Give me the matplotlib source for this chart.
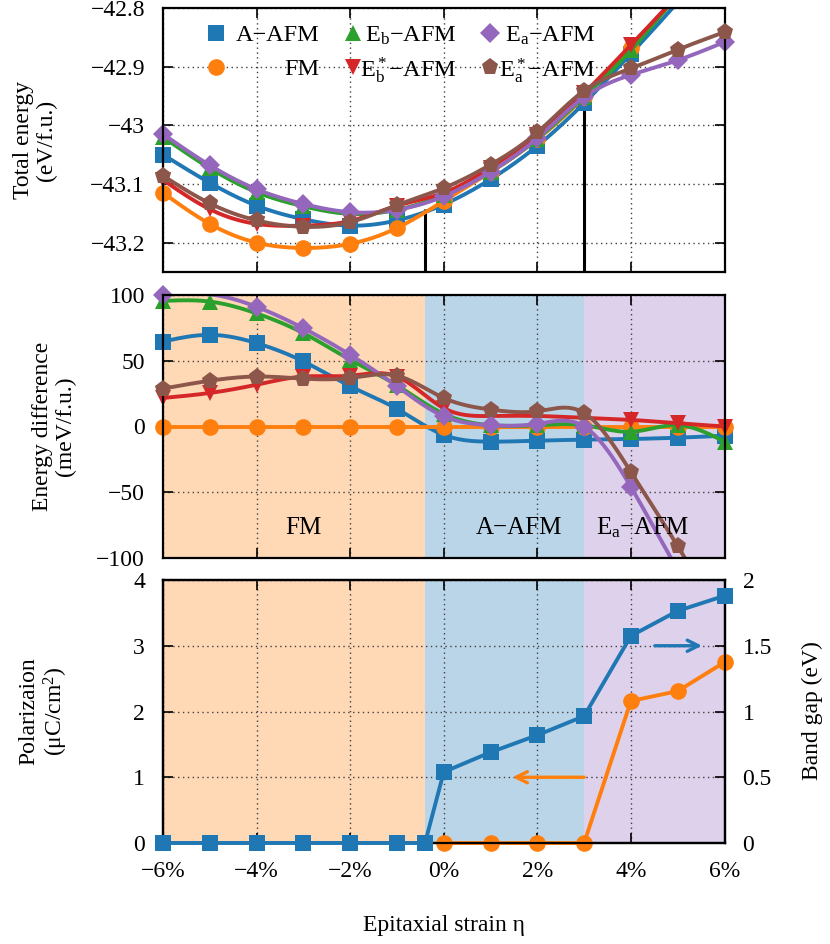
import numpy as np
import matplotlib
matplotlib.use("Agg")
import matplotlib.pyplot as plt
from matplotlib.ticker import FuncFormatter
from matplotlib import font_manager

serif_names = {f.name for f in font_manager.fontManager.ttflist}
main_font = "Liberation Serif" if "Liberation Serif" in serif_names else "STIXGeneral"
plt.rcParams["font.family"] = [main_font, "STIXGeneral", "DejaVu Serif"]
plt.rcParams["mathtext.fontset"] = "custom"
plt.rcParams["mathtext.rm"] = main_font
plt.rcParams["mathtext.it"] = main_font + ":italic"
plt.rcParams["mathtext.default"] = "regular"
plt.rcParams["font.size"] = 16

# ---------------- data ----------------
strain = [-6, -5, -4, -3, -2, -1, 0, 1, 2, 3, 4, 5, 6]
phase_labels = ["A−AFM", "FM", "E$_b$−AFM", "E$_b^*$−AFM", "E$_a$−AFM", "E$_a^*$−AFM"]

# total energy (eV/f.u.)
etot_A = [-43.050, -43.098, -43.137, -43.160, -43.171, -43.162, -43.135, -43.092, -43.035, -42.962, -42.878, -42.790, -42.697]
etot_FM = [-43.115, -43.168, -43.200, -43.209, -43.202, -43.175, -43.129, -43.080, -43.024, -42.952, -42.868, -42.780, -42.690]
etot_Eb = [-43.020, -43.073, -43.114, -43.138, -43.151, -43.144, -43.119, -43.079, -43.023, -42.951, -42.872, -42.779, -42.701]
etot_Ebs = [-43.093, -43.143, -43.168, -43.171, -43.163, -43.137, -43.115, -43.072, -43.016, -42.945, -42.863, -42.778, -42.690]
etot_Ea = [-43.015, -43.068, -43.109, -43.134, -43.148, -43.144, -43.121, -43.079, -43.022, -42.952, -42.914, -42.889, -42.858]
etot_Eas = [-43.086, -43.133, -43.162, -43.173, -43.165, -43.136, -43.107, -43.067, -43.012, -42.941, -42.903, -42.871, -42.841]

# energy relative to FM (meV/f.u.)
de_A = [64.6, 69.7, 63.4, 49.5, 30.6, 13.4, -6.4, -11.5, -10.8, -10.0, -9.5, -8.5, -7.0]
de_FM = [0, 0, 0, 0, 0, 0, 0, 0, 0, 0, 0, 0, 0]
de_Eb = [95.5, 95.0, 86.0, 71.0, 50.8, 31.3, 9.6, 1.0, 1.0, 1.0, -4.0, 1.0, -11.5]
de_Ebs = [21.7, 25.5, 31.8, 38.0, 38.6, 38.0, 14.0, 8.0, 8.0, 6.6, 5.0, 2.5, 0.0]
de_Ea = [100.0, 100.5, 91.0, 74.7, 54.5, 30.6, 7.8, 1.0, 2.0, 0.0, -46.0, -109.0, -168.0]
de_Eas = [28.8, 34.8, 38.0, 36.4, 36.9, 38.6, 21.7, 12.9, 11.6, 10.3, -34.6, -91.0, -151.0]

# polarization (left axis) and band gap (right axis)
pol_strain = [0, 1, 2, 3, 4, 5, 6]
polarization = [0, 0, 0, 0, 2.16, 2.31, 2.75]
gap_strain = [-6, -5, -4, -3, -2, -1, -0.4, 0, 1, 2, 3, 4, 5, 6]
band_gap = [0, 0, 0, 0, 0, 0, 0, 0.54, 0.69, 0.82, 0.965, 1.575, 1.765, 1.88]

# phase boundaries and their energies
boundaries = [-0.4, 3.0]
boundary_energy = [-43.142, -42.965]
regions = [("FM", -6, -0.4, "tab:orange", -3.0),
           ("A−AFM", -0.4, 3.0, "tab:blue", 1.6),
           ("E$_a$−AFM", 3.0, 6, "tab:purple", 4.25)]

colors = ["tab:blue", "tab:orange", "tab:green", "tab:red", "tab:purple", "tab:brown"]
markers = ["s", "o", "^", "v", "D", "p"]
msizes = [11.5, 12, 11.5, 11.5, 10, 12.5]
etot = [etot_A, etot_FM, etot_Eb, etot_Ebs, etot_Ea, etot_Eas]
de = [de_A, de_FM, de_Eb, de_Ebs, de_Ea, de_Eas]


def natural_spline(x, y, xs):
    x = np.asarray(x, float)
    y = np.asarray(y, float)
    n = len(x)
    h = np.diff(x)
    A = np.zeros((n, n))
    r = np.zeros(n)
    A[0, 0] = A[-1, -1] = 1.0
    for i in range(1, n - 1):
        A[i, i - 1] = h[i - 1]
        A[i, i] = 2 * (h[i - 1] + h[i])
        A[i, i + 1] = h[i]
        r[i] = 6 * ((y[i + 1] - y[i]) / h[i] - (y[i] - y[i - 1]) / h[i - 1])
    M = np.linalg.solve(A, r)
    idx = np.clip(np.searchsorted(x, xs) - 1, 0, n - 2)
    x0, x1 = x[idx], x[idx + 1]
    hh = x1 - x0
    t0, t1 = x1 - xs, xs - x0
    return (M[idx] * t0 ** 3 / (6 * hh) + M[idx + 1] * t1 ** 3 / (6 * hh)
            + (y[idx] / hh - M[idx] * hh / 6) * t0
            + (y[idx + 1] / hh - M[idx + 1] * hh / 6) * t1)


def pct(v, _):
    s = f"{int(round(v))}%"
    return s.replace("-", "\u2212")


def num(v, _):
    s = f"{v:g}"
    return s.replace("-", "\u2212")


def style_axis(ax, ylim, yticks, right=True):
    ax.set_xlim(-6, 6)
    ax.set_ylim(*ylim)
    ax.set_xticks(range(-6, 7, 2))
    ax.set_yticks(yticks)
    ax.yaxis.set_major_formatter(FuncFormatter(num))
    ax.xaxis.set_major_formatter(FuncFormatter(pct))
    ax.tick_params(direction="in", length=7, width=1.2, top=True, right=right,
                   labelsize=17, pad=13)
    ax.grid(True, color="0.25", linestyle=(0, (1, 2.5)), linewidth=1.0)
    for sp in ax.spines.values():
        sp.set_linewidth(1.6)


fig = plt.figure(figsize=(8.3, 9.44), dpi=100)
L, W = 163 / 830, 561.5 / 830
ax1 = fig.add_axes([L, 1 - 272 / 944, W, 264 / 944])
ax2 = fig.add_axes([L, 1 - 558 / 944, W, 263 / 944])
ax3 = fig.add_axes([L, 1 - 843 / 944, W, 263 / 944])

xs = np.linspace(-6, 6, 600)

# ---- total energy ----
style_axis(ax1, (-43.25, -42.8), [-43.2, -43.1, -43.0, -42.9, -42.8])
ax1.tick_params(labelbottom=False)
ax1.vlines(boundaries, -43.25, boundary_energy, color="k", lw=2.2, zorder=1.5)
for k, (y, c, m, ms) in enumerate(zip(etot, colors, markers, msizes)):
    ax1.plot(xs, natural_spline(strain, y, xs), color=c, lw=2.8, zorder=2 + k * 0.1)
    ya = np.array(y, float)
    ya = np.where((ya >= -43.25) & (ya <= -42.8), ya, np.nan)
    ax1.plot(strain, ya, ls="none", marker=m, ms=ms, color=c, mew=0,
             clip_on=False, zorder=2.05 + k * 0.1)

# legend drawn in axes coordinates
leg_mx = [0.0944, 0.0944, 0.339, 0.339, 0.582, 0.582]
leg_tx = [0.2787, 0.2787, 0.5236, 0.5236, 0.7711, 0.7711]
leg_y = [0.904, 0.778, 0.904, 0.778, 0.904, 0.778]
for lab, c, m, ms, mx, tx, ly in zip(phase_labels, colors, markers, msizes, leg_mx, leg_tx, leg_y):
    ax1.plot([mx], [ly], transform=ax1.transAxes, marker=m, ms=ms, color=c,
             mew=0, ls="none", zorder=5)
    ax1.text(tx, ly, lab, transform=ax1.transAxes, ha="right", va="center_baseline",
             fontsize=17.5, zorder=5)

# ---- energy difference ----
style_axis(ax2, (-100, 100), [-100, -50, 0, 50, 100])
ax2.tick_params(labelbottom=False)
for name, x0, x1, c, lx in regions:
    ax2.axvspan(x0, x1, color=c, alpha=0.3, lw=0, zorder=0)
    ax2.text(lx, -77, name, ha="center", va="center", fontsize=18)
for k, (y, c, m, ms) in enumerate(zip(de, colors, markers, msizes)):
    ax2.plot(xs, natural_spline(strain, y, xs), color=c, lw=2.8, zorder=2 + k * 0.1)
    ya = np.array(y, float)
    ya = np.where((ya >= -100) & (ya <= 100), ya, np.nan)
    ax2.plot(strain, ya, ls="none", marker=m, ms=ms, color=c, mew=0,
             clip_on=False, zorder=2.05 + k * 0.1)

# ---- polarization and band gap ----
style_axis(ax3, (0, 4), [0, 1, 2, 3, 4], right=False)
for name, x0, x1, c, lx in regions:
    ax3.axvspan(x0, x1, color=c, alpha=0.3, lw=0, zorder=0)
ax3.plot(pol_strain, polarization, color="tab:orange", marker="o", ms=12, mew=0,
         lw=2.8, clip_on=False, zorder=3)
ax3.annotate("", xy=(1.47, 1.0), xytext=(3.0, 1.0),
             arrowprops=dict(arrowstyle="->", color="tab:orange", lw=2.4,
                             mutation_scale=20, shrinkA=0, shrinkB=0), zorder=4)

ax4 = ax3.twinx()
ax4.set_ylim(0, 2)
ax4.set_yticks([0, 0.5, 1, 1.5, 2])
ax4.yaxis.set_major_formatter(FuncFormatter(num))
ax4.tick_params(direction="in", length=7, width=1.2, labelsize=17, pad=13)
for sp in ax4.spines.values():
    sp.set_linewidth(1.6)
ax4.plot(gap_strain, band_gap, color="tab:blue", marker="s", ms=11.5, mew=0,
         lw=2.8, clip_on=False, zorder=3)
ax4.annotate("", xy=(5.52, 1.5), xytext=(4.51, 1.5),
             arrowprops=dict(arrowstyle="->", color="tab:blue", lw=2.4,
                             mutation_scale=20, shrinkA=0, shrinkB=0), zorder=4)

# ---- axis titles ----
fig.text(35 / 830, 1 - 140 / 944, "Total energy\n(eV/f.u.)", rotation=90,
         ha="center", va="center", fontsize=17, linespacing=1.1)
fig.text(54 / 830, 1 - 426 / 944, "Energy difference\n(meV/f.u.)", rotation=90,
         ha="center", va="center", fontsize=17, linespacing=1.1)
fig.text(44 / 830, 1 - 711 / 944, "Polarizaion\n(μC/cm$^2$)", rotation=90,
         ha="center", va="center", fontsize=17, linespacing=1.1)
fig.text(812 / 830, 1 - 711 / 944, "Band gap (eV)", rotation=90,
         ha="center", va="center", fontsize=17)
fig.text(444 / 830, 1 - 925 / 944, "Epitaxial strain η", ha="center", va="center",
         fontsize=17)

fig.savefig("out.png", dpi=100)
